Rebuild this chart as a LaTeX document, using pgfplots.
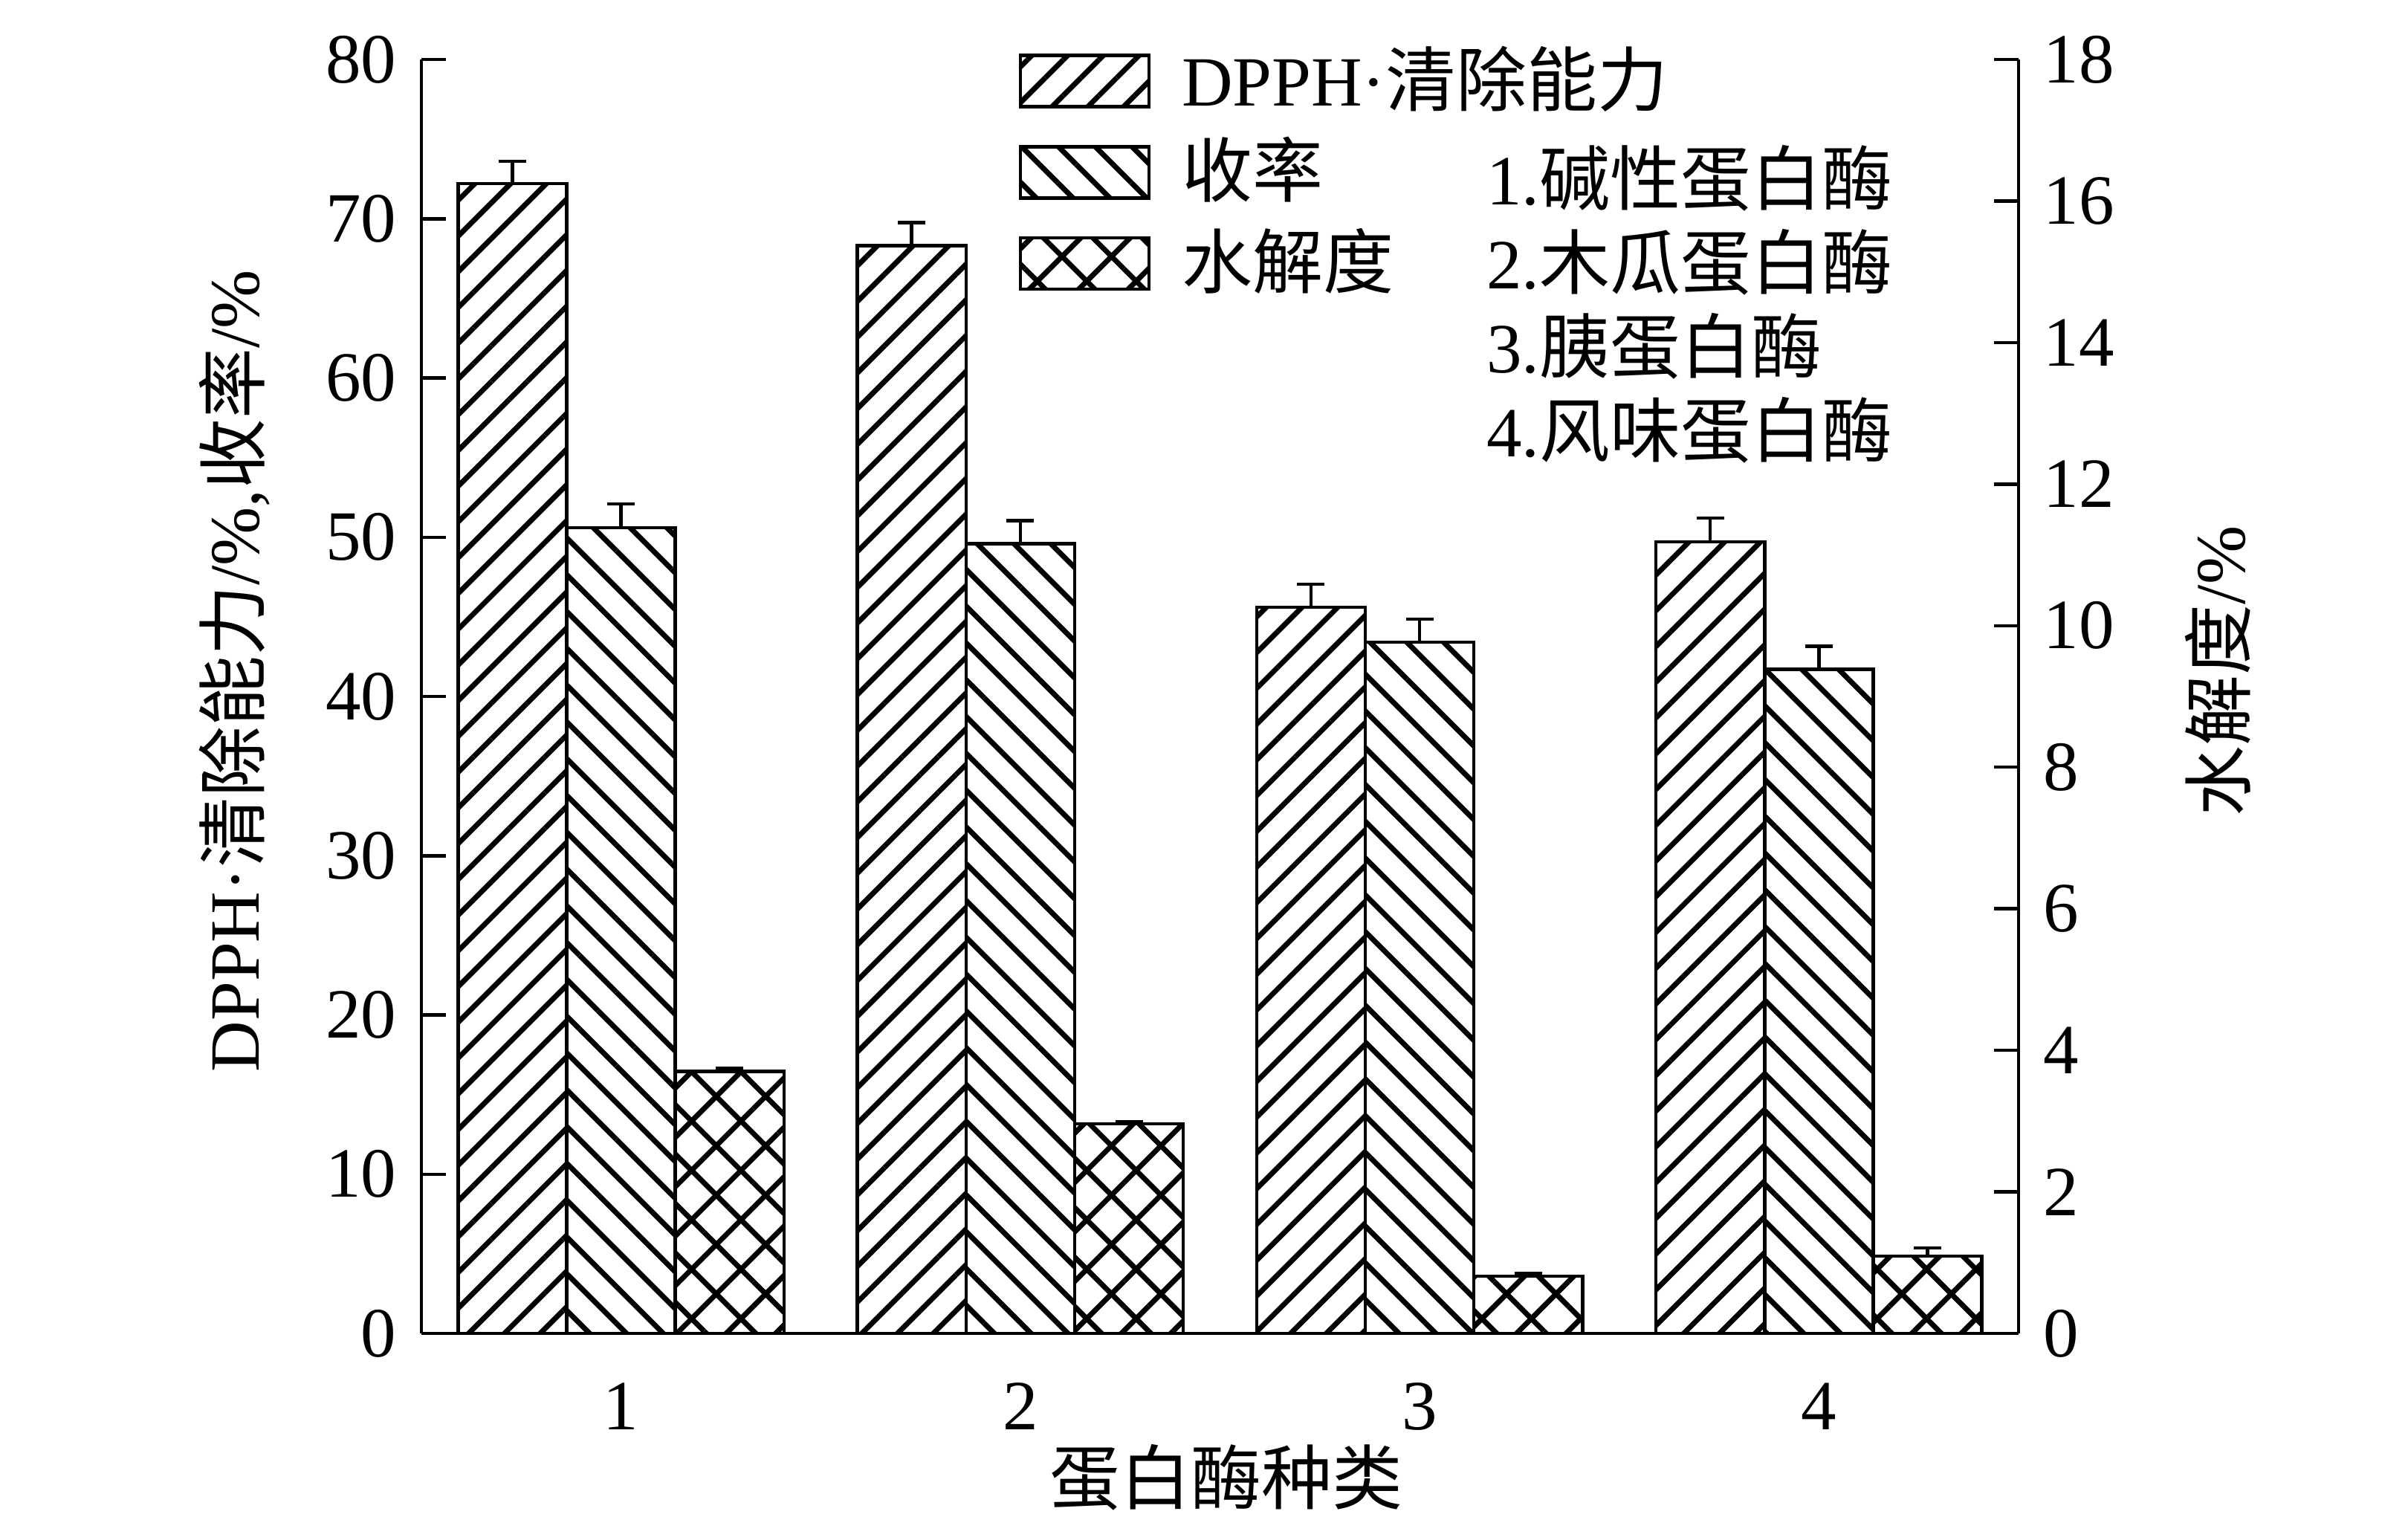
\documentclass[border=0pt]{standalone}
\usepackage{fontspec}
\setmainfont{Liberation Serif}
\newfontfamily\cjk{Noto Sans CJK SC}
\newcommand{\zh}[1]{{\cjk #1}}
\usepackage{pgfplots}
\usepackage{pgfplotstable}
\pgfplotsset{compat=1.18}
\usetikzlibrary{patterns.meta}

\pgfplotstableread{
x y e
1 72.2 1.4
2 68.3 1.45
3 45.6 1.45
4 49.7 1.5
}\dpph
\pgfplotstableread{
x y e
1 50.6 1.5
2 49.6 1.45
3 43.4 1.45
4 41.7 1.45
}\yield
\pgfplotstableread{
x y e
1 3.70 0.05
2 2.96 0.03
3 0.81 0.04
4 1.09 0.12
}\hydro

\tikzset{
  dpphst/.style={draw=black, line width=0.45pt, pattern={Lines[angle=45,distance=3.4pt,line width=0.7pt]}},
  yieldst/.style={draw=black, line width=0.45pt, pattern={Lines[angle=-45,distance=3.5pt,line width=0.7pt]}},
  hydrost/.style={draw=black, line width=0.45pt, pattern={Hatch[angle=45,distance=4.7pt,line width=0.7pt]}},
}

\pgfplotsset{
  base/.style={
    scale only axis, width=214.9pt, height=171.4pt,
    at={(0pt,0pt)}, anchor=south west,
    xmin=0.5, xmax=4.5,
    axis line style={line width=0.45pt},
    tick style={line width=0.45pt, black},
    major tick length=3.3pt,
    tick align=inside,
    /pgf/number format/assume math mode=true,
    ticklabel style={font=\fontsize{9.5pt}{11pt}\selectfont},
    label style={font=\fontsize{9.5pt}{11pt}\selectfont},
    ybar, bar width=0.272,
    clip=false,
  },
  ebar/.style={error bars/.cd, y dir=plus, y explicit,
    error bar style={line width=0.45pt, black},
    error mark options={rotate=90, mark size=1.85pt, line width=0.45pt, black},
    /pgfplots/.cd},
}

\begin{document}
\fontsize{9.5pt}{11.5pt}\selectfont
\begin{tikzpicture}
\path[use as bounding box] (-56.7pt,-24.6pt) rectangle (267.3pt,179.4pt);
\begin{axis}[base,
  ymin=0, ymax=80, ytick={0,10,...,80},
  axis y line*=left, axis x line*=bottom,
  xtick={1,2,3,4}, xticklabels={1,2,3,4},
  xtick style={draw=none},
  xlabel={\zh{蛋白酶种类}},
  xlabel style={at={(axis description cs:0.504,-0.113)}, anchor=center},
  ylabel={DPPH·\zh{清除能力}/\%,\zh{收率}/\%},
  ylabel style={at={(axis description cs:-0.117,0.52)}, anchor=center},
]
\addplot[dpphst, bar shift=-0.272, ebar] table[x=x, y=y, y error=e] {\dpph};
\addplot[yieldst, bar shift=0, ebar] table[x=x, y=y, y error=e] {\yield};
\end{axis}
\begin{axis}[base,
  ymin=0, ymax=18, ytick={0,2,...,18},
  axis y line*=right, axis x line=none,
  xtick=\empty,
  ylabel={\zh{水解度}/\%},
  ylabel style={at={(axis description cs:1.125,0.52)}, anchor=center},
  legend image code/.code={\draw[#1] (0pt,-3.45pt) rectangle (17.3pt,3.45pt);},
  legend cell align=left,
  legend style={at={(axis description cs:0.373,1.02)}, anchor=north west,
    draw=none, fill=none, inner sep=0pt, row sep=0pt, column sep=0pt,
    font=\fontsize{9.5pt}{11pt}\selectfont,
    nodes={inner xsep=4.2pt, inner ysep=1.4pt}},
]
\addlegendimage{dpphst}
\addlegendentry{DPPH·\zh{清除能力}}
\addlegendimage{yieldst}
\addlegendentry{\zh{收率}}
\addlegendimage{hydrost}
\addlegendentry{\zh{水解度}}
\addplot[hydrost, bar shift=0.272, forget plot, ebar] table[x=x, y=y, y error=e] {\hydro};
\node[anchor=north west, align=left, inner sep=0pt,
  font=\fontsize{9.5pt}{11.3pt}\selectfont]
  at (axis description cs:0.666,0.934)
  {1.\zh{碱性蛋白酶}\\2.\zh{木瓜蛋白酶}\\3.\zh{胰蛋白酶}\\4.\zh{风味蛋白酶}};
\end{axis}
\end{tikzpicture}
\end{document}
